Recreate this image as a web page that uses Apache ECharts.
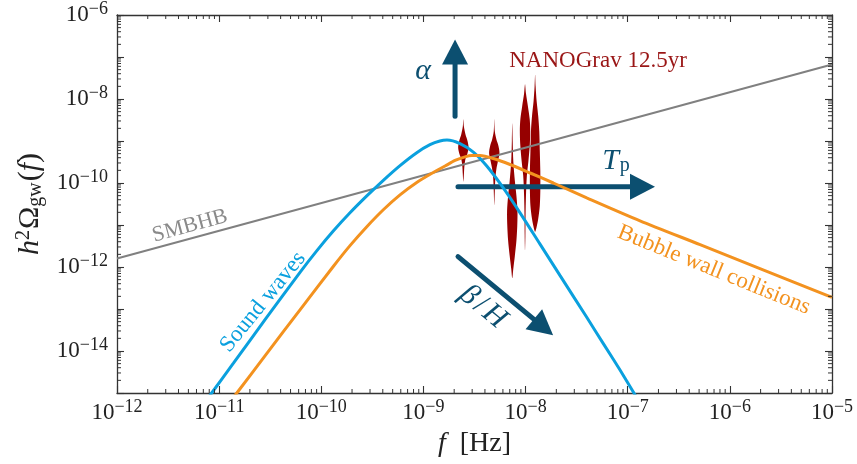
<!DOCTYPE html>
<html><head><meta charset="utf-8">
<script src="https://cdn.jsdelivr.net/npm/echarts@6/dist/echarts.min.js"></script>
<style>html,body{margin:0;padding:0;background:#fff}#c{width:857px;height:464px}</style>
</head><body><div id="c"></div>
<script>
// ---------------- data ----------------
// Sound waves spectrum: frequency [Hz] and h^2 Omega_gw
const soundFreq  = [7.28e-12, 8.45e-12, 1.38e-11, 2.92e-11, 6.19e-11, 9.02e-11, 1.31e-10, 1.91e-10, 2.79e-10, 4.05e-10, 5.90e-10, 8.60e-10, 1.16e-9, 1.45e-9, 1.70e-9, 2.28e-9, 3.08e-9, 4.17e-9, 6.05e-9, 8.83e-9, 1.38e-8, 2.17e-8, 3.97e-8, 5.77e-8, 8.41e-8, 1.15e-7, 1.32e-7];
const soundOmega = [6.08e-16, 1.0e-15, 5.12e-15, 6.32e-14, 7.48e-13, 2.42e-12, 7.16e-12, 1.95e-11, 4.92e-11, 1.16e-10, 2.60e-10, 5.28e-10, 8.17e-10, 1.0e-9, 1.05e-9, 8.67e-10, 5.46e-10, 2.54e-10, 7.66e-11, 1.95e-11, 3.55e-12, 6.30e-13, 6.35e-14, 1.50e-14, 3.52e-15, 1.0e-15, 5.82e-16];
// Bubble wall collisions spectrum
const bubbleFreq  = [1.25e-11, 1.49e-11, 2.92e-11, 6.19e-11, 1.31e-10, 1.91e-10, 2.79e-10, 4.05e-10, 5.90e-10, 8.60e-10, 1.25e-9, 1.63e-9, 2.04e-9, 2.55e-9, 2.99e-9, 3.58e-9, 4.83e-9, 7.04e-9, 1.11e-8, 1.87e-8, 3.97e-8, 1.32e-7, 5.11e-7, 1.97e-6, 1e-5];
const bubbleOmega = [5.82e-16, 1.0e-15, 8.67e-15, 9.57e-14, 1.03e-12, 3.23e-12, 9.12e-12, 2.31e-11, 5.22e-11, 1.03e-10, 1.78e-10, 2.54e-10, 3.44e-10, 4.20e-10, 4.51e-10, 4.51e-10, 3.83e-10, 2.76e-10, 1.73e-10, 1.0e-10, 4.44e-11, 1.26e-11, 3.41e-12, 9.20e-13, 1.89e-13];
// SMBHB power law
const smbhbFreq  = [1e-12, 1e-5];
const smbhbOmega = [1.59e-12, 6.64e-8];
// NANOGrav 12.5yr violins: frequency bins, log10(h^2 Omega) samples and relative density
const nanoFreq = [2.46e-9, 4.94e-9, 7.41e-9, 9.88e-9, 1.24e-8];
const nanoLogOmega = [
  [-8.48, -8.65, -8.84, -9.00, -9.15, -9.29, -9.43, -9.60, -9.76, -9.97],
  [-8.48, -8.77, -8.96, -9.12, -9.29, -9.48, -9.67, -9.90, -10.19, -10.54],
  [-8.58, -9.00, -9.48, -9.95, -10.31, -10.66, -11.02, -11.37, -11.73, -12.04, -12.27],
  [-7.65, -7.87, -8.17, -8.48, -8.77, -9.12, -9.48, -9.83, -10.31, -10.78, -11.25, -11.61],
  [-7.42, -7.70, -8.06, -8.41, -8.77, -9.24, -9.71, -10.19, -10.54, -10.85, -11.04, -11.16]
];
const nanoDensity = [
  [0, 0.1, 0.4, 0.8, 1.0, 0.8, 0.4, 0.2, 0.12, 0],
  [0, 0.1, 0.4, 0.8, 1.0, 0.7, 0.4, 0.2, 0.1, 0],
  [0, 0.08, 0.2, 0.5, 0.8, 1.0, 0.96, 0.8, 0.5, 0.2, 0],
  [0, 0.18, 0.55, 0.9, 1.0, 0.9, 0.65, 0.35, 0.18, 0.1, 0.07, 0],
  [0, 0.1, 0.3, 0.6, 0.8, 0.9, 1.0, 1.0, 0.9, 0.6, 0.3, 0]
];
// annotation arrows (alpha, T_p, beta/H): tail and head in data coordinates
const arrowTail = [[2.04e-9, 3.89e-9], [2.18e-9, 8.09e-11], [2.18e-9, 1.77e-12]];
const arrowHead = [[2.04e-9, 2.60e-7], [1.85e-7, 8.09e-11], [1.86e-8, 2.38e-14]];
// axes
const xMin = 1e-12, xMax = 1e-5, yMin = 1e-15, yMax = 1e-6;
const xMinorTicks = [];
for (let e = -12; e < -5; e++) for (let m = 2; m <= 9; m++) xMinorTicks.push(m * Math.pow(10, e));
const yMinorTicks = [];
for (let e = -15; e < -6; e++) for (let m = 2; m <= 9; m++) yMinorTicks.push(m * Math.pow(10, e));

// ---------------- styles ----------------
const FONT = 'Liberation Serif';
const AX = '#333333';
const BLUE = '#0aa0de', ORANGE = '#f3921f', GRAY = '#808080', RED = '#960000', ARROW = '#0c4f70';

function expLabel(v, onlyEven) {
  const e = Math.round(Math.log10(v));
  if (onlyEven && Math.abs(e) % 2 === 1) return '';
  return '{b|10}{s|' + (e < 0 ? '\u2212' : '') + Math.abs(e) + '}';
}
const tickRich = {
  b: {fontFamily: FONT, fontSize: 23, color: '#222'},
  s: {fontFamily: FONT, fontSize: 18, color: '#222', padding: [0, 0, 12, 0]}
};
function axisBase(extra) {
  return Object.assign({
    type: 'log', logBase: 10,
    axisLine: {show: true, onZero: false, lineStyle: {color: AX, width: 1.3}},
    axisTick: {show: true, inside: true, length: 7, lineStyle: {color: AX, width: 1.1}},
    splitLine: {show: false},
    minorTick: {show: false},
    minorSplitLine: {show: false}
  }, extra);
}

const chart = echarts.init(document.getElementById('c'));
chart.setOption({
  animation: false,
  backgroundColor: '#fff',
  grid: {left: 117, right: 25, top: 13, bottom: 71},
  xAxis: [
    axisBase({position: 'bottom', min: xMin, max: xMax,
      axisLabel: {margin: 5, formatter: v => expLabel(v, false), rich: tickRich},
      name: '{i|f}{r|\u2002[Hz]}', nameLocation: 'middle', nameGap: 30,
      nameTextStyle: {rich: {i: {fontFamily: FONT, fontStyle: 'italic', fontSize: 28, color: '#222'}, r: {fontFamily: FONT, fontSize: 28, color: '#222'}}}
    }),
    axisBase({position: 'top', min: xMin, max: xMax, axisLabel: {show: false}})
  ],
  yAxis: [
    axisBase({position: 'left', min: yMin, max: yMax,
      axisLabel: {margin: 9, formatter: v => expLabel(v, true), rich: tickRich},
      name: '{i|h}{sup|2}{r|\u03A9}{sub|gw}{r|(}{i|f}{r|)}', nameLocation: 'middle', nameGap: 65, nameRotate: 90,
      nameTextStyle: {rich: {
        i: {fontFamily: FONT, fontStyle: 'italic', fontSize: 30, color: '#222'},
        r: {fontFamily: FONT, fontSize: 30, color: '#222'},
        sup: {fontFamily: FONT, fontSize: 20, color: '#222', padding: [0, 1, 13, 0]},
        sub: {fontFamily: FONT, fontSize: 20, color: '#222', padding: [11, 1, 0, 0]}
      }}
    }),
    axisBase({position: 'right', min: yMin, max: yMax, axisLabel: {show: false}})
  ],
  series: [
    {
      name: 'NANOGrav', type: 'custom', z: 1, silent: true,
      data: nanoFreq.map(f => [f, 1e-9]),
      renderItem(params, api) {
        const i = params.dataIndex, f = nanoFreq[i];
        const lo = nanoLogOmega[i], d = nanoDensity[i];
        const VW = 5.2;
        const L = [], R = [];
        for (let k = 0; k < lo.length; k++) {
          const p = api.coord([f, Math.pow(10, lo[k])]);
          L.push([p[0] - d[k] * VW, p[1]]);
          if (d[k] > 0) R.push([p[0] + d[k] * VW, p[1]]);
        }
        return {type: 'polygon', shape: {points: L.concat(R.reverse()), smooth: 0.3}, style: {fill: RED}};
      }
    },
    {
      name: 'arrows', type: 'custom', z: 2, silent: true,
      data: arrowTail.map((t, i) => [t[0], t[1], arrowHead[i][0], arrowHead[i][1]]),
      encode: {x: [0, 2], y: [1, 3]},
      renderItem(params, api) {
        const p0 = api.coord([api.value(0), api.value(1)]);
        const p1 = api.coord([api.value(2), api.value(3)]);
        const dx = p1[0] - p0[0], dy = p1[1] - p0[1];
        const len = Math.hypot(dx, dy), ux = dx / len, uy = dy / len;
        const HL = 25, HW = 13;
        const bx = p1[0] - ux * HL, by = p1[1] - uy * HL;
        return {type: 'group', children: [
          {type: 'line', shape: {x1: p0[0], y1: p0[1], x2: bx + ux * 3, y2: by + uy * 3}, style: {stroke: ARROW, lineWidth: 5, lineCap: 'round'}},
          {type: 'polygon', shape: {points: [[p1[0], p1[1]], [bx - uy * HW, by + ux * HW], [bx + uy * HW, by - ux * HW]]}, style: {fill: ARROW}}
        ]};
      }
    },
    {
      name: 'SMBHB', type: 'line', z: 3, symbol: 'none', silent: true,
      data: smbhbFreq.map((f, i) => [f, smbhbOmega[i]]),
      lineStyle: {color: GRAY, width: 2}
    },
    {
      name: 'Sound waves', type: 'line', z: 4, symbol: 'none', smooth: 0.25, silent: true, clip: true,
      data: soundFreq.map((f, i) => [f, soundOmega[i]]),
      lineStyle: {color: BLUE, width: 3}
    },
    {
      name: 'Bubble wall collisions', type: 'line', z: 4, symbol: 'none', smooth: 0.25, silent: true, clip: true,
      data: bubbleFreq.map((f, i) => [f, bubbleOmega[i]]),
      lineStyle: {color: ORANGE, width: 3}
    },
    {
      name: 'xMinor', type: 'custom', z: 5, silent: true, clip: false,
      data: xMinorTicks.map(v => [v, 1e-10]),
      renderItem(params, api) {
        const cs = params.coordSys;
        const x = api.coord([api.value(0), 1e-10])[0];
        return {type: 'group', children: [
          {type: 'line', shape: {x1: x, y1: cs.y + cs.height, x2: x, y2: cs.y + cs.height - 4}, style: {stroke: AX, lineWidth: 1}},
          {type: 'line', shape: {x1: x, y1: cs.y, x2: x, y2: cs.y + 4}, style: {stroke: AX, lineWidth: 1}}
        ]};
      }
    },
    {
      name: 'yMinor', type: 'custom', z: 5, silent: true, clip: false,
      data: yMinorTicks.map(v => [1e-9, v]),
      renderItem(params, api) {
        const cs = params.coordSys;
        const y = api.coord([1e-9, api.value(1)])[1];
        return {type: 'group', children: [
          {type: 'line', shape: {x1: cs.x, y1: y, x2: cs.x + 4, y2: y}, style: {stroke: AX, lineWidth: 1}},
          {type: 'line', shape: {x1: cs.x + cs.width, y1: y, x2: cs.x + cs.width - 4, y2: y}, style: {stroke: AX, lineWidth: 1}}
        ]};
      }
    }
  ],
  graphic: [
    {type: 'text', x: 423, y: 71, z: 100, style: {text: '\u03B1', font: 'italic 30px ' + FONT, fill: ARROW, align: 'center', verticalAlign: 'middle'}},
    {type: 'text', x: 598, y: 61, z: 100, style: {text: 'NANOGrav 12.5yr', font: '23px ' + FONT, fill: '#9a1616', align: 'center', verticalAlign: 'middle'}},
    {type: 'text', x: 616, y: 161, z: 100, style: {text: '{t|T}{p|p}', align: 'center', verticalAlign: 'middle',
      rich: {t: {fontFamily: FONT, fontStyle: 'italic', fontSize: 30, fill: ARROW}, p: {fontFamily: FONT, fontSize: 20, fill: ARROW, padding: [10, 0, 0, 1]}}}},
    {type: 'text', x: 483, y: 307, z: 100, rotation: -39.7 * Math.PI / 180, style: {text: '{g|\u03B2}{r|/}{g|H}', align: 'center', verticalAlign: 'middle',
      rich: {g: {fontFamily: FONT, fontStyle: 'italic', fontSize: 30, fill: ARROW}, r: {fontFamily: FONT, fontSize: 30, fill: ARROW, padding: [0, 3, 0, 3]}}}},
    {type: 'text', x: 190, y: 226, z: 100, rotation: 15.3 * Math.PI / 180, style: {text: 'SMBHB', font: '22px ' + FONT, fill: '#8a8a8a', align: 'center', verticalAlign: 'middle'}},
    {type: 'text', x: 263, y: 302, z: 100, rotation: 51 * Math.PI / 180, style: {text: 'Sound waves', font: '23px ' + FONT, fill: BLUE, align: 'center', verticalAlign: 'middle'}},
    {type: 'text', x: 714, y: 270, z: 100, rotation: -22 * Math.PI / 180, style: {text: 'Bubble wall collisions', font: '23px ' + FONT, fill: ORANGE, align: 'center', verticalAlign: 'middle'}}
  ]
});
</script>
</body></html>
